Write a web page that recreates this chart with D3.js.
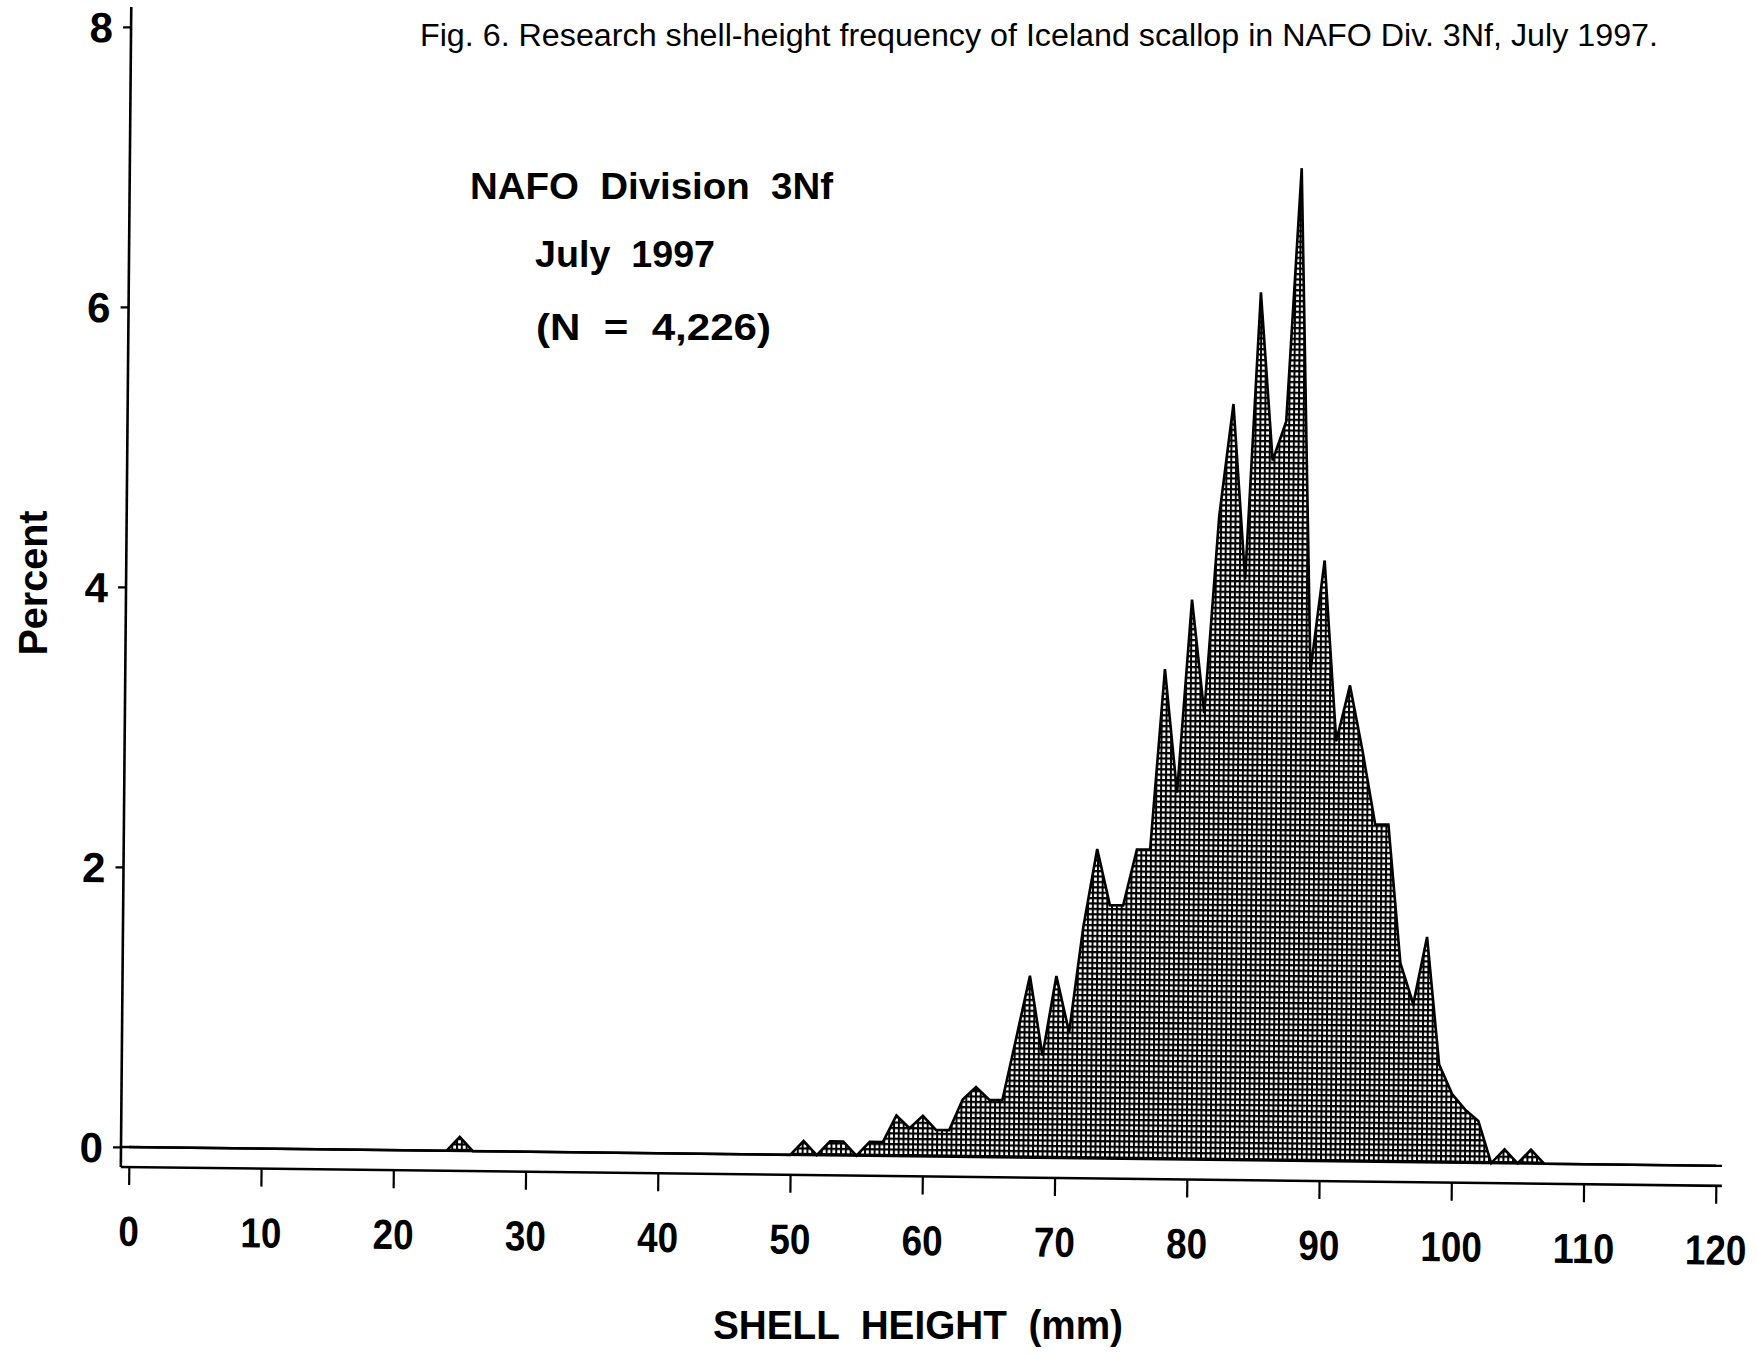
<!DOCTYPE html>
<html>
<head>
<meta charset="utf-8">
<script src="https://cdn.jsdelivr.net/npm/d3@7"></script>
<style>
  body { margin: 0; background: #fff; }
  text { font-family: "Liberation Sans", Arial, Helvetica, sans-serif; fill: #000; white-space: pre; }
</style>
</head>
<body>
<div id="chart"></div>
<script>
// Shell-height frequency (mm, percent)
const shellHeights = [0, 24, 25, 26, 50, 51, 52, 53, 54, 55, 56, 57, 58, 59, 60, 61, 62, 63, 64, 65,
    66, 67, 68, 69, 70, 71, 72, 73, 74, 75, 76, 77, 78, 79, 80, 81, 82, 83, 84, 85,
    86, 87, 88, 89, 90, 91, 92, 93, 94, 95, 96, 97, 98, 99, 100, 101, 102, 103, 104, 105,
    106, 107, 120];
const percents = [0, 0, 0.1, 0, 0, 0.1, 0, 0.1, 0.1, 0, 0.1, 0.1, 0.29, 0.2, 0.29, 0.19, 0.19, 0.41, 0.5, 0.41,
    0.41, 0.85, 1.3, 0.73, 1.3, 0.9, 1.65, 2.21, 1.81, 1.81, 2.21, 2.21, 3.5, 2.62, 4.0, 3.19, 4.6, 5.4, 4.15, 6.2,
    5.0, 5.28, 7.09, 3.5, 4.29, 3.0, 3.4, 2.93, 2.41, 2.41, 1.42, 1.13, 1.61, 0.7, 0.49, 0.38, 0.3, 0, 0.1, 0,
    0.1, 0, 0];

const xTicks = [0, 10, 20, 30, 40, 50, 60, 70, 80, 90, 100, 110, 120];
const yTicks = [0, 2, 4, 6, 8];

const titleText = "Fig. 6. Research shell-height frequency of Iceland scallop in NAFO Div. 3Nf, July 1997.";
const boxLines = ["NAFO  Division  3Nf", "July  1997", "(N  =  4,226)"];
const xTitle = "SHELL  HEIGHT  (mm)";
const yTitle = "Percent";

const data = shellHeights.map((h, i) => ({ h: h, p: percents[i] }));

const svg = d3.select("#chart").append("svg")
    .attr("width", 1757)
    .attr("height", 1356);

// cross-hatch fill used under the curve
const pat = svg.append("defs").append("pattern")
    .attr("id", "grid")
    .attr("patternUnits", "userSpaceOnUse")
    .attr("width", 4.8)
    .attr("height", 5.4);
pat.append("rect").attr("width", 4.8).attr("height", 5.4).attr("fill", "#fff");
pat.append("rect").attr("width", 2.0).attr("height", 5.4).attr("fill", "#000");
pat.append("rect").attr("width", 4.8).attr("height", 2.2).attr("fill", "#000");

const x = d3.scaleLinear().domain([0, 120]).range([129, 1716]);
const y = d3.scaleLinear().domain([0, 8]).range([1147, 27]);

const axisX = 121, axisY = 1167, rightEnd = 1722;

// the scanned plot frame sits slightly skewed on the page
const plot = svg.append("g")
    .attr("transform", "translate(125,1147) matrix(1,0.0118,-0.009,1,0,0) translate(-125,-1147)");

// area and outline
plot.append("path")
    .datum(data)
    .attr("fill", "url(#grid)")
    .attr("d", d3.area().x(d => x(d.h)).y0(y(0)).y1(d => y(d.p)));

plot.append("line")
    .attr("x1", axisX).attr("x2", rightEnd)
    .attr("y1", y(0)).attr("y2", y(0))
    .attr("stroke", "#000").attr("stroke-width", 2.4);

plot.append("path")
    .datum(data)
    .attr("fill", "none")
    .attr("stroke", "#000")
    .attr("stroke-width", 2.6)
    .attr("stroke-linejoin", "miter")
    .attr("d", d3.line().x(d => x(d.h)).y(d => y(d.p)));

// x axis
const gx = plot.append("g")
    .attr("transform", `translate(0,${axisY})`)
    .call(d3.axisBottom(x).tickValues(xTicks).tickSizeInner(18).tickSizeOuter(0).tickPadding(31));
gx.select(".domain").remove();
gx.selectAll("line").attr("stroke", "#000").attr("stroke-width", 2.2);
gx.selectAll("text")
    .style("font-size", "42px")
    .style("font-weight", "bold")
    .attr("fill", "#000")
    .attr("textLength", d => String(d).length * 20.5)
    .attr("lengthAdjust", "spacingAndGlyphs");

plot.append("line")
    .attr("x1", axisX).attr("x2", rightEnd)
    .attr("y1", axisY).attr("y2", axisY)
    .attr("stroke", "#000").attr("stroke-width", 2.6);

// y axis
const gy = plot.append("g")
    .attr("transform", `translate(${axisX},0)`)
    .call(d3.axisLeft(y).tickValues(yTicks).tickSizeInner(8).tickSizeOuter(0).tickPadding(10));
gy.select(".domain").remove();
gy.selectAll("line").attr("stroke", "#000").attr("stroke-width", 2.2);
gy.selectAll("text")
    .style("font-size", "42px")
    .style("font-weight", "bold")
    .attr("fill", "#000")
    .attr("dy", "0.36em");

plot.append("line")
    .attr("x1", axisX).attr("x2", axisX)
    .attr("y1", 7).attr("y2", axisY)
    .attr("stroke", "#000").attr("stroke-width", 2.6);

// titles
svg.append("text")
    .attr("x", 420)
    .attr("y", 46)
    .attr("textLength", 1238)
    .attr("lengthAdjust", "spacingAndGlyphs")
    .style("font-size", "31px")
    .text(titleText);

const boxPos = [{ x: 470, y: 199, w: 363 }, { x: 535, y: 267, w: 180 }, { x: 536, y: 340, w: 235 }];
boxLines.forEach((t, i) => {
    svg.append("text")
        .attr("x", boxPos[i].x)
        .attr("y", boxPos[i].y)
        .attr("textLength", boxPos[i].w)
        .attr("lengthAdjust", "spacingAndGlyphs")
        .style("font-size", "37px")
        .style("font-weight", "bold")
        .text(t);
});

svg.append("text")
    .attr("x", 918)
    .attr("y", 1339)
    .attr("text-anchor", "middle")
    .attr("textLength", 410)
    .attr("lengthAdjust", "spacingAndGlyphs")
    .style("font-size", "40px")
    .style("font-weight", "bold")
    .text(xTitle);

svg.append("text")
    .attr("transform", "translate(47,583) rotate(-90)")
    .attr("text-anchor", "middle")
    .attr("textLength", 145)
    .attr("lengthAdjust", "spacingAndGlyphs")
    .style("font-size", "40px")
    .style("font-weight", "bold")
    .text(yTitle);
</script>
</body>
</html>
